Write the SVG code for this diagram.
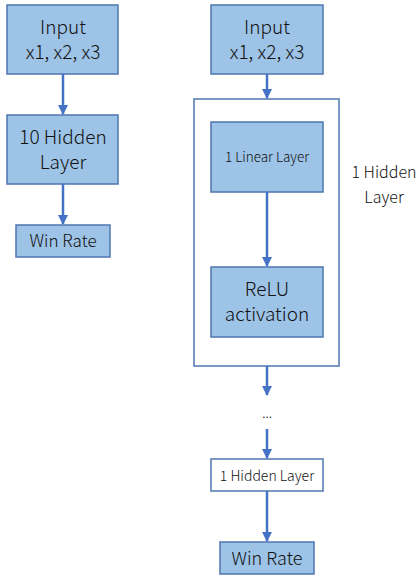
<svg xmlns="http://www.w3.org/2000/svg" width="417" height="578" viewBox="0 0 417 578">
<defs>
<style>
.b{fill:#9DC3E6;stroke:#4F76B0;stroke-width:1.5}
.w{fill:#FFFFFF;stroke:#4F76B0;stroke-width:1.5}
.t{font-family:"Noto Sans CJK KR","Noto Sans",sans-serif;font-weight:300;fill:#111;text-anchor:middle}
.c{stroke:#4472C4;stroke-width:2.5;fill:none;marker-end:url(#ah)}
</style>
<marker id="ah" viewBox="0 0 10 10" refX="9" refY="5" markerWidth="4" markerHeight="4" orient="auto" markerUnits="strokeWidth">
<path d="M0,0 L10,5 L0,10 z" fill="#4472C4"/>
</marker>
</defs>
<g id="left-input"><rect class="b" x="7" y="5" width="111" height="69"/><text class="t" x="63" y="34" font-size="19">Input</text><text class="t" x="63" y="59" font-size="19">x1, x2, x3</text></g>
<g id="left-hidden"><rect class="b" x="7" y="115" width="111" height="69"/><text class="t" x="63" y="144" font-size="19">10 Hidden</text><text class="t" x="63" y="169" font-size="19">Layer</text></g>
<g id="left-win"><rect class="b" x="16" y="225" width="94" height="32"/><text class="t" x="63" y="247" font-size="17">Win Rate</text></g>
<g id="right-input"><rect class="b" x="211" y="5" width="112" height="69"/><text class="t" x="267" y="34" font-size="19">Input</text><text class="t" x="267" y="59" font-size="19">x1, x2, x3</text></g>
<g id="hidden-group"><rect class="w" x="194" y="99" width="145" height="267"/></g>
<g id="hidden-label"><text class="t" x="384" y="178" font-size="16">1 Hidden</text><text class="t" x="384" y="203" font-size="16">Layer</text></g>
<g id="linear"><rect class="b" x="211" y="122" width="112" height="70"/><text class="t" x="267" y="162" font-size="13.5">1 Linear Layer</text></g>
<g id="relu"><rect class="b" x="211" y="267" width="112" height="70"/><text class="t" x="267" y="296" font-size="19">ReLU</text><text class="t" x="267" y="321" font-size="19">activation</text></g>
<g id="dots"><text class="t" x="267" y="418" font-size="13">...</text></g>
<g id="hidden-last"><rect class="w" x="211" y="459" width="112" height="32"/><text class="t" x="267" y="481" font-size="14">1 Hidden Layer</text></g>
<g id="right-win"><rect class="b" x="220" y="542" width="94" height="32"/><text class="t" x="267" y="565" font-size="18">Win Rate</text></g>
<g id="connectors">
<line class="c" x1="63" y1="74" x2="63" y2="114"/>
<line class="c" x1="63" y1="184" x2="63" y2="224"/>
<line class="c" x1="267" y1="74" x2="267" y2="98"/>
<line class="c" x1="267" y1="192" x2="267" y2="266"/>
<line class="c" x1="267" y1="366" x2="267" y2="395"/>
<line class="c" x1="267" y1="429" x2="267" y2="458"/>
<line class="c" x1="267" y1="491" x2="267" y2="541"/>
</g>
</svg>
